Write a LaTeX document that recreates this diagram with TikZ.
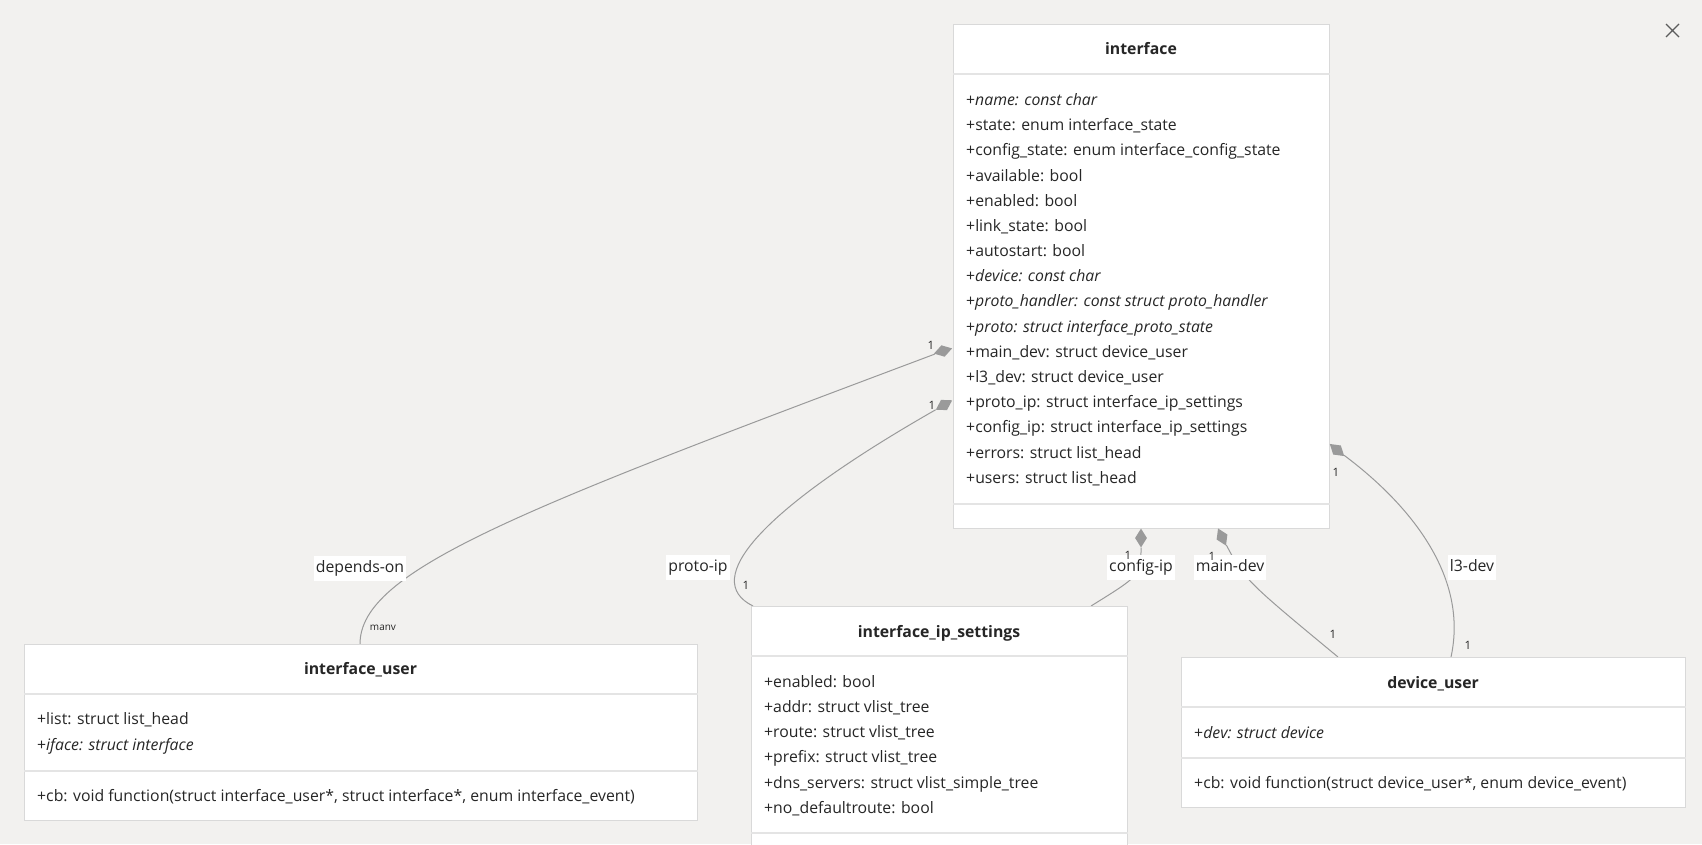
\documentclass[tikz,border=0pt]{standalone}
\usepackage{fontspec}
\setmainfont{Open Sans}
\usepackage{tikz}
\usetikzlibrary{shapes.geometric,backgrounds}
\definecolor{canvas}{HTML}{F2F1EF}
\definecolor{boxline}{HTML}{D9D9D9}
\definecolor{divline}{HTML}{E4E4E4}
\definecolor{ink}{HTML}{262626}
\definecolor{wire}{HTML}{9A9A9A}
\tikzstyle{class box}=[draw=boxline, fill=white, line width=1pt, rectangle, inner sep=0pt, anchor=north west]
\tikzstyle{class title}=[font=\fontsize{15.8}{18}\selectfont\bfseries, text=ink, inner sep=0pt, text height=11.5pt, text depth=3.5pt, yshift=-1.5pt]
\tikzstyle{member}=[font=\fontsize{15.8}{18}\selectfont, text=ink, anchor=west, inner sep=0pt, text height=11.5pt, text depth=3.5pt, yshift=-1.5pt]
\tikzstyle{divider} = [draw=divline, line width=1.6pt]
\tikzstyle{link} = [draw=wire, line width=1pt]
\tikzstyle{composition}=[diamond, fill=wire, draw=none, inner sep=0pt, minimum width=19pt, minimum height=12pt]
\tikzstyle{role}=[fill=white, text=ink, font=\fontsize{15.8}{18}\selectfont, inner xsep=2pt, inner ysep=5pt, text height=11.5pt, text depth=3.5pt, yshift=-1pt]
\tikzstyle{mult}=[text=ink, font=\fontsize{11.5}{13}\selectfont, inner sep=0pt]
\begin{document}
\begin{tikzpicture}[x=1pt, y=-1pt]
	\useasboundingbox (0,0) rectangle (1702,844);
	% First we draw the classes
	\node[class box, minimum width=376pt, minimum height=504pt] (iface) at (953,24) {};
	\node[class title] (iface-title) at (1141,49) {interface};
	\draw[divider] ([yshift=-50pt]iface.north west) -- ([yshift=-50pt]iface.north east);
	\draw[divider] ([yshift=25pt]iface.south west) -- ([yshift=25pt]iface.south east);
	\foreach \i/\txt in {
		0/{+\textit{name: const char}},
		1/{+state: enum interface\_state},
		2/{+config\_state: enum interface\_config\_state},
		3/{+available: bool},
		4/{+enabled: bool},
		5/{+link\_state: bool},
		6/{+autostart: bool},
		7/{+\textit{device: const char}},
		8/{+\textit{proto\_handler: const struct proto\_handler}},
		9/{+\textit{proto: struct interface\_proto\_state}},
		10/{+main\_dev: struct device\_user},
		11/{+l3\_dev: struct device\_user},
		12/{+proto\_ip: struct interface\_ip\_settings},
		13/{+config\_ip: struct interface\_ip\_settings},
		14/{+errors: struct list\_head},
		15/{+users: struct list\_head}}
	\node[member] (iface-\i) at (966,{100+25.18*\i}) {\txt};

	\node[class box, minimum width=673pt, minimum height=176pt] (iuser) at (24,644) {};
	\node[class title] (iuser-title) at (360.5,669) {interface\_user};
	\draw[divider] ([yshift=-50pt]iuser.north west) -- ([yshift=-50pt]iuser.north east);
	\draw[divider] ([yshift=50pt]iuser.south west) -- ([yshift=50pt]iuser.south east);
	\foreach \i/\txt in {
		0/{+list: struct list\_head},
		1/{+\textit{iface: struct interface}}}
	\node[member] (iuser-\i) at (37,{719+25.6*\i}) {\txt};
	\node[member] (iuser-cb) at (37,796) {+cb: void function(struct interface\_user*, struct interface*, enum interface\_event)};

	\node[class box, minimum width=376pt, minimum height=250pt] (ipset) at (751,606) {};
	\node[class title] (ipset-title) at (939,632) {interface\_ip\_settings};
	\draw[divider] ([yshift=-50pt]ipset.north west) -- ([yshift=-50pt]ipset.north east);
	\draw[divider] ([yshift=-227pt]ipset.north west) -- ([yshift=-227pt]ipset.north east);
	\foreach \i/\txt in {
		0/{+enabled: bool},
		1/{+addr: struct vlist\_tree},
		2/{+route: struct vlist\_tree},
		3/{+prefix: struct vlist\_tree},
		4/{+dns\_servers: struct vlist\_simple\_tree},
		5/{+no\_defaultroute: bool}}
	\node[member] (ipset-\i) at (764,{681.7+25.2*\i}) {\txt};

	\node[class box, minimum width=504pt, minimum height=150pt] (devuser) at (1181,657) {};
	\node[class title] (devuser-title) at (1433,683) {device\_user};
	\draw[divider] ([yshift=-50pt]devuser.north west) -- ([yshift=-50pt]devuser.north east);
	\draw[divider] ([yshift=50pt]devuser.south west) -- ([yshift=50pt]devuser.south east);
	\node[member] (devuser-0) at (1194,733) {+\textit{dev: struct device}};
	\node[member] (devuser-cb) at (1194,783) {+cb: void function(struct device\_user*, enum device\_event)};

	% Composition diamonds and connector ends
	\node[composition, rotate=16] (dep-dia) at (943,351) {};
	\node[composition, rotate=30] (proto-dia) at (944,405) {};
	\node[composition, rotate=90] (config-dia) at (1141,538) {};
	\node[composition, rotate=-65] (main-dia) at (1222,537) {};
	\node[composition, rotate=-40] (l3-dia) at (1337,450) {};
	\coordinate (dep-end) at ([xshift=336pt]iuser.north west);
	\coordinate (proto-end) at ([xshift=2pt]ipset.north west);
	\coordinate (config-end) at ([xshift=-37pt]ipset.north east);
	\coordinate (main-end) at ([xshift=157pt]devuser.north west);
	\coordinate (l3-end) at ([xshift=270pt]devuser.north west);

	% Role labels and multiplicities
	\node[role] (dep-label) at (360,567) {depends-on};
	\node[role] (proto-label) at (698,566) {proto-ip};
	\node[role] (config-label) at (1141,566) {config-ip};
	\node[role] (main-label) at (1230,566) {main-dev};
	\node[role] (l3-label) at (1472,566) {l3-dev};
	\foreach \pos/\name in {
		{(931,345)/dep-m1},
		{(932,405)/proto-m1},
		{(746,585)/proto-m2},
		{(1128,555)/config-m1},
		{(1212,556)/main-m1},
		{(1333,634)/main-m2},
		{(1336,472)/l3-m1},
		{(1468,645)/l3-m2}}
	\node[mult] (\name) at \pos {1};
	\node[mult, font=\fontsize{10}{12}\selectfont] (dep-m2) at (383,628) {manv};

	% Close mark
	\draw[draw=ink!75, line width=1.2pt] (1666,24) -- (1679,37) (1666,37) -- (1679,24);

	% Connect classes with edges
	\begin{pgfonlayer}{background}
	\fill[canvas] (0,0) rectangle (1702,844);
	\node[mult] (config-m2) at (1114,611) {1};
	\path[link] (dep-dia) .. controls (520,510) and (360,570) .. (dep-end);
	\path[link] (proto-dia) .. controls (760,510) and (700,580) .. (proto-end);
	\path[link] (config-dia) .. controls (1141,575) .. (config-end);
	\path[link] (main-dia) .. controls (1245,580) .. (main-end);
	\path[link] (l3-dia) .. controls (1400,497) and (1470,570) .. (l3-end);
	\end{pgfonlayer}
\end{tikzpicture}
\end{document}
